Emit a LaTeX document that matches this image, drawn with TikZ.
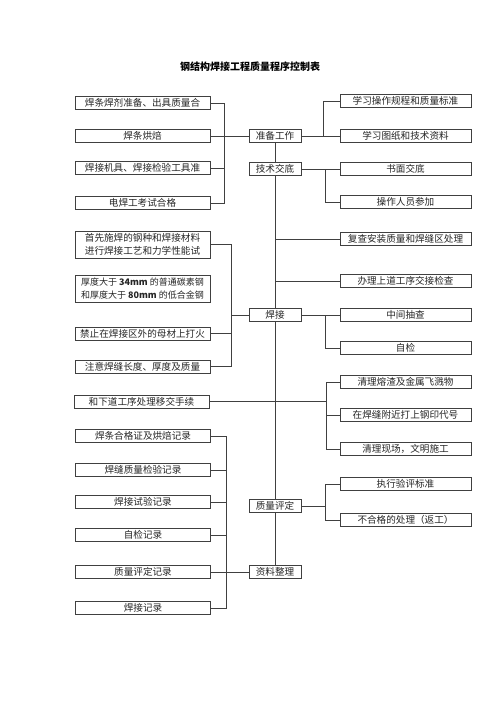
\documentclass[tikz,border=0pt]{standalone}
\usepackage{fontspec}
\setmainfont{Noto Sans CJK SC}
\begin{document}
\begin{tikzpicture}[x=1pt,y=-1pt,
  box/.style={draw=black!75, line width=0.7pt, inner sep=0pt, minimum height=13pt,
    font=\fontsize{9.6}{11}\selectfont, text=black!85},
  lbox/.style={box, minimum width=135pt},
  lbox2/.style={box, minimum width=135pt, minimum height=27pt, align=center,
    font=\fontsize{9.6}{13.5}\selectfont},
  mbox/.style={box, minimum width=52pt},
  rbox/.style={box, minimum width=131pt},
  link/.style={draw=black!75, line width=0.7pt}]
\path[use as bounding box, fill=white] (0,0) rectangle (500,707);

\node[font=\fontsize{10}{12}\selectfont\bfseries] (title) at (250,67) {钢结构焊接工程质量程序控制表};

% spine boxes
\node[mbox] (P1) at (275,136) {准备工作};
\node[mbox] (P2) at (275,169) {技术交底};
\node[mbox] (P3) at (275,315) {焊接};
\node[mbox] (P4) at (275,506) {质量评定};
\node[mbox] (P5) at (275,572) {资料整理};

% left group 1
\node[lbox] (L1) at (142.5,103) {焊条焊剂准备、出具质量合};
\node[lbox] (L2) at (142.5,136) {焊条烘焙};
\node[lbox] (L3) at (142.5,168) {焊接机具、焊接检验工具准};
\node[lbox] (L4) at (142.5,203) {电焊工考试合格};

% left group 2
\node[lbox2] (L5) at (142.5,244.5) {首先施焊的钢种和焊接材料\\进行焊接工艺和力学性能试};
\node[lbox2, font=\fontsize{9}{13.5}\selectfont] (L6) at (142.5,288.5) {厚度大于 \textbf{34mm} 的普通碳素钢\\和厚度大于 \textbf{80mm} 的低合金钢};
\node[lbox] (L7) at (142.5,333.5) {禁止在焊接区外的母材上打火};
\node[lbox] (L8) at (142.5,366.5) {注意焊缝长度、厚度及质量};
\node[lbox] (L9) at (141.5,401.5) {和下道工序处理移交手续};

% left group 3
\node[lbox] (L10) at (143,436) {焊条合格证及烘焙记录};
\node[lbox] (L11) at (143,470) {焊缝质量检验记录};
\node[lbox] (L12) at (143,502) {焊接试验记录};
\node[lbox] (L13) at (143,535) {自检记录};
\node[lbox] (L14) at (143,572) {质量评定记录};
\node[lbox] (L15) at (143,608) {焊接记录};

% right boxes
\node[rbox] (R1) at (405.5,101) {学习操作规程和质量标准};
\node[rbox] (R2) at (405.5,136) {学习图纸和技术资料};
\node[rbox] (R3) at (405.5,169) {书面交底};
\node[rbox] (R4) at (405.5,202) {操作人员参加};
\node[rbox] (R5) at (405.5,239) {复查安装质量和焊缝区处理};
\node[rbox] (R6) at (405.5,281) {办理上道工序交接检查};
\node[rbox] (R7) at (405.5,315) {中间抽查};
\node[rbox] (R8) at (405.5,348) {自检};
\node[rbox] (R9) at (405.5,382) {清理熔渣及金属飞溅物};
\node[rbox] (R10) at (405.5,415) {在焊缝附近打上钢印代号};
\node[rbox] (R11) at (405.5,449) {清理现场，文明施工};
\node[rbox] (R12) at (405.5,484) {执行验评标准};
\node[rbox] (R13) at (405.5,520) {不合格的处理（返工）};

% bracket coordinates
\coordinate (b1) at (224,0);
\coordinate (b2) at (231,0);
\coordinate (b3) at (226,0);
\coordinate (r1) at (323,0);
\coordinate (r2) at (325,0);
\coordinate (r3) at (326,0);

% spine
\draw[link] (P1.south) -- (P2.north);
\draw[link] (P2.south) -- (P3.north);
\draw[link] (P3.south) -- (P4.north);
\draw[link] (P4.south) -- (P5.north);

% left group 1
\draw[link] (L1.east) -- (L1.east -| b1) -- (L4.east -| b1) -- (L4.east);
\draw[link] (L3.east) -- (L3.east -| b1);
\draw[link] (L2.east) -- (P1.west);

% right group 1
\draw[link] (P1.east) -- (R2.west);
\draw[link] (R1.west) -- (R1.west -| r1) -- (P1.east -| r1);

% right group 2
\draw[link] (P2.east) -- (R3.west);
\draw[link] (P2.east -| r2) |- (R4.west);

% spine branches
\draw[link] (R5.west -| P2.south) -- (R5.west);
\draw[link] (R6.west -| P2.south) -- (R6.west);

% left group 2
\draw[link] (L5.east) -- (L5.east -| b2) -- (L8.east -| b2) -- (L8.east);
\draw[link] (L7.east) -- (L7.east -| b2);
\draw[link] (P3.west -| b2) -- (P3.west);

% 焊接 right
\draw[link] (P3.east) -- (R7.west);
\draw[link] (P3.east -| r2) |- (R8.west);

% 移交 line
\draw[link] (L9.east) -- (L9.east -| r3);
\draw[link] (R9.west) -- (R9.west -| r3) -- (R11.west -| r3) -- (R11.west);
\draw[link] (R10.west -| r3) -- (R10.west);

% 质量评定 right
\draw[link] (P4.east) -- (P4.east -| r2);
\draw[link] (R12.west) -- (R12.west -| r2) -- (R13.west -| r2) -- (R13.west);

% left group 3
\draw[link] (L10.east) -- (L10.east -| b3) -- (L15.east -| b3) -- (L15.east);
\draw[link] (L11.east) -- (L11.east -| b3);
\draw[link] (L12.east) -- (L12.east -| b3);
\draw[link] (L13.east) -- (L13.east -| b3);
\draw[link] (L14.east) -- (P5.west);
\end{tikzpicture}
\end{document}
